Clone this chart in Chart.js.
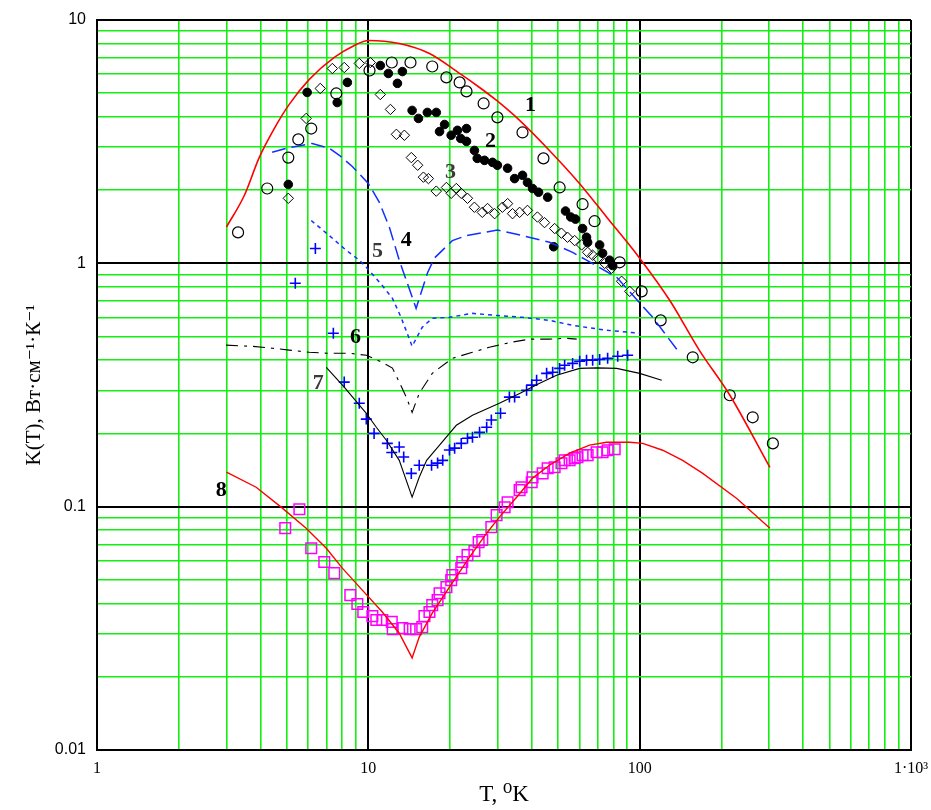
<!DOCTYPE html>
<html>
<head>
<meta charset="utf-8">
<script src="https://cdn.jsdelivr.net/npm/chart.js@4/dist/chart.umd.min.js"></script>
<style>
  html, body { margin: 0; padding: 0; background: #ffffff; }
  #wrap { width: 931px; height: 810px; }
</style>
</head>
<body>
<div id="wrap"><canvas id="c" width="931" height="810"></canvas></div>
<script>
// ---------- Axis ticks ----------
const xTickValues = [1, 10, 100, 1000];
const xTickLabels = ['1', '10', '100', '1·10³'];
const yTickValues = [0.01, 0.1, 1, 10];
const yTickLabels = ['0.01', '0.1', '1', '10'];
const minorMultipliers = [2, 3, 4, 5, 6, 7, 8, 9];

// ---------- Curves (lines) ----------
const curve1T = [3.0, 3.49, 3.96, 4.5, 5.11, 6.06, 7.49, 8.88, 10, 13, 16.8, 21.7, 25.7, 29.7, 36.1, 46.5, 60, 75.5, 100, 129, 166, 215, 302];
const curve1K = [1.41, 1.90, 2.72, 3.58, 4.50, 5.70, 7.02, 7.86, 8.24, 8.0, 7.28, 6.03, 5.28, 4.67, 3.87, 2.91, 2.13, 1.55, 1.05, 0.705, 0.439, 0.287, 0.145];

const curve4T = [4.42, 5.11, 6.21, 7.18, 7.82, 8.73, 10, 10.98, 11.95, 13.0, 15.0, 16.5, 17.5, 20.4, 23.0, 29.9, 37, 46.5, 56.6, 63.7, 82.3, 111.7, 140.5];
const curve4K = [2.86, 2.99, 3.11, 2.97, 2.78, 2.50, 2.13, 1.78, 1.41, 1.03, 0.653, 0.91, 1.05, 1.24, 1.30, 1.37, 1.30, 1.22, 1.11, 1.03, 0.876, 0.60, 0.427];

const curve5T = [6.16, 7.18, 8.3, 9.27, 9.9, 11.26, 12.27, 13.2, 13.9, 14.5, 15.8, 17.2, 19.9, 24.2, 29.9, 37, 46.5, 56.6, 75.5, 100];
const curve5K = [1.50, 1.30, 1.13, 1.03, 0.954, 0.81, 0.718, 0.60, 0.516, 0.456, 0.546, 0.594, 0.60, 0.623, 0.61, 0.60, 0.583, 0.556, 0.531, 0.516];

const curve6T = [2.99, 3.73, 4.42, 5.11, 6.06, 7.06, 8.51, 9.84, 11.26, 12.27, 13.0, 13.8, 14.5, 15.4, 17.2, 20.4, 24.2, 27.9, 33.7, 39.3, 46.5, 53.8, 58.6];
const curve6K = [0.461, 0.456, 0.448, 0.44, 0.431, 0.427, 0.427, 0.419, 0.392, 0.371, 0.325, 0.282, 0.244, 0.292, 0.353, 0.407, 0.431, 0.452, 0.474, 0.488, 0.488, 0.492, 0.488];

const curve7T = [7.0, 8.15, 9.83, 10.7, 11.65, 13.0, 14.5, 15.4, 16.4, 18.3, 21.1, 24.2, 30.4, 36.1, 42.8, 49.4, 60.1, 69.4, 82.3, 100, 120.6];
const curve7K = [0.374, 0.31, 0.242, 0.212, 0.1875, 0.155, 0.1094, 0.132, 0.155, 0.179, 0.216, 0.2375, 0.266, 0.292, 0.3215, 0.347, 0.370, 0.372, 0.370, 0.353, 0.331];

const curve8T = [3.0, 3.86, 4.82, 5.9, 7.0, 8.02, 9.5, 11.26, 13.0, 14.5, 15.4, 17.2, 19.9, 23.6, 27.3, 30.4, 35.2, 40.3, 46.5, 55.2, 65.4, 75.5, 91.9, 102.6, 121.6, 144, 170.8, 228, 302];
const curve8K = [0.1386, 0.1202, 0.0986, 0.0816, 0.0675, 0.0559, 0.0454, 0.0369, 0.0302, 0.0239, 0.0291, 0.0365, 0.0467, 0.062, 0.0778, 0.0906, 0.1094, 0.131, 0.148, 0.1659, 0.179, 0.184, 0.184, 0.182, 0.1706, 0.155, 0.137, 0.108, 0.0816];

// ---------- Measured points ----------
const s1T = [3.31, 4.24, 5.07, 5.52, 6.16, 7.62, 10.1, 12.2, 14.3, 17.2, 19.4, 21.7, 23.0, 26.6, 29.9, 37.0, 44.2, 50.7, 61.6, 68.2, 84.4, 101.7, 119.5, 156.9, 214.8, 261, 309.7];
const s1K = [1.34, 2.03, 2.72, 3.23, 3.58, 4.99, 6.2, 6.69, 6.69, 6.44, 5.81, 5.54, 5.09, 4.54, 3.98, 3.45, 2.70, 2.05, 1.75, 1.49, 1.01, 0.767, 0.583, 0.411, 0.287, 0.233, 0.182];

const s2T = [5.07, 5.95, 7.68, 8.37, 11.07, 11.85, 12.8, 13.35, 14.5, 15.3, 16.5, 17.8, 18.3, 19.1, 20.2, 21.3, 23.0, 21.9, 23.0, 24.6, 25.2, 26.8, 28.7, 29.9, 32.6, 34.6, 37.0, 38.6, 40.3, 42.4, 45.8, 48.2, 53.3, 55.7, 58.0, 61.6, 63.7, 64.3, 71.2, 73.0, 77.5, 79.5];
const s2K = [2.11, 5.04, 4.58, 5.54, 6.5, 6.03, 5.49, 6.14, 4.25, 3.94, 4.17, 4.17, 3.48, 3.72, 3.36, 3.52, 3.58, 3.26, 3.17, 2.91, 2.70, 2.65, 2.60, 2.53, 2.46, 2.23, 2.30, 2.15, 2.03, 1.96, 1.87, 1.17, 1.64, 1.55, 1.52, 1.39, 1.28, 1.22, 1.19, 1.10, 1.03, 0.98];

const s3T = [5.07, 5.9, 6.65, 7.37, 8.15, 9.26, 10.17, 11.07, 12.06, 12.69, 13.58, 14.4, 15.2, 15.96, 16.65, 17.8, 19.4, 20.2, 21.1, 22.0, 23.2, 24.6, 26.3, 27.5, 29.2, 31.2, 32.6, 34.0, 36.1, 38.6, 42.0, 44.6, 48.6, 51.5, 54.2, 57.6, 61.1, 64.3, 67.1, 70.0, 74.3, 78.8, 85.8, 91.9];
const s3K = [1.85, 3.94, 5.23, 6.32, 6.38, 6.63, 6.69, 4.94, 4.29, 3.39, 3.36, 2.72, 2.53, 2.26, 2.23, 1.98, 2.05, 1.94, 2.03, 1.94, 1.85, 1.70, 1.62, 1.68, 1.60, 1.70, 1.76, 1.60, 1.62, 1.65, 1.55, 1.47, 1.39, 1.33, 1.28, 1.24, 1.19, 1.11, 1.08, 1.05, 1.00, 0.954, 0.844, 0.767];

const s7T = [5.38, 6.38, 7.43, 8.15, 9.26, 9.83, 10.5, 11.75, 12.2, 13.0, 13.5, 14.4, 15.4, 17.1, 18.0, 18.8, 19.9, 20.8, 22.0, 23.2, 24.2, 25.7, 27.3, 28.4, 30.7, 33.1, 34.6, 38.3, 40.0, 41.7, 45.4, 47.8, 50.7, 52.9, 56.6, 60.1, 63.7, 67.1, 71.2, 76.2, 83.0, 90.3];
const s7K = [0.828, 1.15, 0.516, 0.325, 0.266, 0.229, 0.200, 0.182, 0.167, 0.176, 0.160, 0.137, 0.148, 0.148, 0.151, 0.155, 0.171, 0.174, 0.182, 0.191, 0.193, 0.202, 0.212, 0.227, 0.242, 0.282, 0.282, 0.301, 0.316, 0.331, 0.353, 0.357, 0.370, 0.381, 0.388, 0.396, 0.400, 0.400, 0.403, 0.407, 0.415, 0.419];

const s8T = [4.94, 5.57, 6.16, 6.88, 7.49, 8.58, 9.11, 9.58, 10.35, 10.7, 11.26, 12.2, 12.3, 13.35, 14.2, 15.0, 15.8, 16.1, 16.8, 17.2, 18.0, 18.3, 19.4, 20.2, 20.4, 22.0, 22.2, 23.2, 24.6, 25.5, 26.3, 28.4, 29.7, 31.8, 32.6, 36.1, 36.7, 40.0, 40.3, 43.9, 45.8, 48.6, 51.5, 52.9, 55.2, 57.6, 59.0, 61.6, 64.3, 69.4, 73.0, 76.2, 80.9];
const s8K = [0.0816, 0.0976, 0.0675, 0.0592, 0.0533, 0.0433, 0.0398, 0.0369, 0.0355, 0.0342, 0.0342, 0.0336, 0.0314, 0.0317, 0.0314, 0.0314, 0.032, 0.0355, 0.0369, 0.0394, 0.0413, 0.0441, 0.0467, 0.0499, 0.0523, 0.0559, 0.0592, 0.0632, 0.0657, 0.0715, 0.0729, 0.0824, 0.0923, 0.0995, 0.1043, 0.1169, 0.1202, 0.126, 0.132, 0.137, 0.1439, 0.1453, 0.1509, 0.1552, 0.1552, 0.1582, 0.1597, 0.1628, 0.1628, 0.1674, 0.1674, 0.1706, 0.1722];

// ---------- Curve number labels (in data units) ----------
const labelTexts = ['1', '2', '3', '4', '5', '6', '7', '8'];
const labelT = [39.6, 28.2, 20.1, 13.8, 10.8, 8.96, 6.54, 2.87];
const labelK = [4.46, 3.17, 2.36, 1.24, 1.12, 0.497, 0.3215, 0.1169];

// ---------- Build ----------
function zip(T, K) { return T.map((t, i) => ({ x: t, y: K[i] })); }
function isDecade(v) { const l = Math.log10(v); return Math.abs(l - Math.round(l)) < 1e-6; }
function allTicks(min, max) {
  const out = [];
  for (let e = Math.round(Math.log10(min)); e < Math.round(Math.log10(max)); e++) {
    const b = Math.pow(10, e);
    out.push({ value: b, major: true });
    minorMultipliers.forEach(m => out.push({ value: m * b }));
  }
  out.push({ value: max, major: true });
  return out;
}
function labelFrom(vals, labels, v) {
  for (let i = 0; i < vals.length; i++) if (Math.abs(Math.log10(v) - Math.log10(vals[i])) < 1e-6) return labels[i];
  return '';
}
const GREEN = '#12f012';

function lineDs(T, K, color, width, dash, smooth) {
  return { data: zip(T, K), showLine: true, borderColor: color, borderWidth: width, borderDash: dash,
    pointRadius: 0, pointHoverRadius: 0, fill: false, tension: 0,
    cubicInterpolationMode: smooth ? 'monotone' : 'default' };
}
function ptDs(T, K, style, r, border, bg, bw) {
  return { data: zip(T, K), showLine: false, pointStyle: style, pointRadius: r, pointHoverRadius: r,
    borderColor: border, backgroundColor: bg, pointBorderWidth: bw, borderWidth: bw };
}

const labelPlugin = {
  id: 'curveLabels',
  afterDatasetsDraw(chart) {
    const { ctx, scales: { x, y } } = chart;
    ctx.save();
    ctx.font = 'bold 22px "Liberation Serif", "DejaVu Serif", serif';
    ctx.textAlign = 'center';
    ctx.textBaseline = 'middle';
    labelTexts.forEach((t, i) => {
      ctx.fillStyle = (t === '3' || t === '5' || t === '7') ? '#3a3a3a' : '#000000';
      ctx.fillText(t, x.getPixelForValue(labelT[i]), y.getPixelForValue(labelK[i]));
    });
    ctx.restore();
  }
};

new Chart(document.getElementById('c'), {
  type: 'scatter',
  data: {
    datasets: [
      lineDs(curve1T, curve1K, '#ff0000', 1.6, [], true),
      lineDs(curve4T, curve4K, '#1030ff', 1.5, [14, 6], false),
      lineDs(curve5T, curve5K, '#1030ff', 1.5, [4, 4], false),
      lineDs(curve6T, curve6K, '#000000', 1.1, [12, 6, 3, 6], false),
      lineDs(curve7T, curve7K, '#000000', 1.1, [], false),
      lineDs(curve8T, curve8K, '#ff0000', 1.4, [], false),
      ptDs(s1T, s1K, 'circle', 5.5, '#000000', 'rgba(0,0,0,0)', 1.2),
      ptDs(s2T, s2K, 'circle', 4.3, '#000000', '#000000', 1),
      ptDs(s3T, s3K, 'rectRot', 5.2, '#000000', 'rgba(0,0,0,0)', 1),
      ptDs(s7T, s7K, 'cross', 5.5, '#0000ff', '#0000ff', 1.6),
      ptDs(s8T, s8K, 'rect', 7.5, '#ff00ff', 'rgba(0,0,0,0)', 1.5)
    ]
  },
  options: {
    responsive: false,
    animation: false,
    devicePixelRatio: 1,
    layout: { padding: { top: 20, right: 20, left: 0, bottom: 0 } },
    plugins: { legend: { display: false }, tooltip: { enabled: false } },
    scales: {
      x: {
        type: 'logarithmic', min: 1, max: 1000,
        afterBuildTicks: (s) => { s.ticks = allTicks(1, 1000); },
        afterFit: (s) => { s.height = 60; s.paddingLeft = 0; s.paddingRight = 0; },
        grid: {
          drawTicks: false,
          color: (c) => isDecade(c.tick.value) ? '#000000' : GREEN,
          lineWidth: (c) => isDecade(c.tick.value) ? 2 : 1.6
        },
        border: { color: '#000000', width: 2 },
        ticks: {
          autoSkip: false, maxRotation: 0, padding: 9, color: '#000000',
          font: { family: '"Liberation Serif", serif', size: 16 },
          callback: (v) => labelFrom(xTickValues, xTickLabels, v)
        },
        title: {
          display: true, text: 'T, ⁰K', color: '#000000',
          font: { family: '"Liberation Serif", "DejaVu Serif", serif', size: 23 },
          padding: { top: 0, bottom: 1 }
        }
      },
      y: {
        type: 'logarithmic', min: 0.01, max: 10,
        afterBuildTicks: (s) => { s.ticks = allTicks(0.01, 10); },
        afterFit: (s) => { s.width = 97; s.paddingTop = 0; s.paddingBottom = 0; },
        grid: {
          drawTicks: false,
          color: (c) => isDecade(c.tick.value) ? '#000000' : GREEN,
          lineWidth: (c) => isDecade(c.tick.value) ? 2 : 1.6
        },
        border: { color: '#000000', width: 2 },
        ticks: {
          autoSkip: false, padding: 11, color: '#000000',
          font: { family: '"Liberation Sans", sans-serif', size: 16 },
          callback: (v) => labelFrom(yTickValues, yTickLabels, v)
        },
        title: {
          display: true, text: 'K(T), Вт·см⁻¹·К⁻¹', color: '#000000',
          font: { family: '"Liberation Serif", "DejaVu Serif", serif', size: 21 },
          padding: { top: 22, bottom: 0 }
        }
      }
    }
  },
  plugins: [labelPlugin]
});
</script>
</body>
</html>
